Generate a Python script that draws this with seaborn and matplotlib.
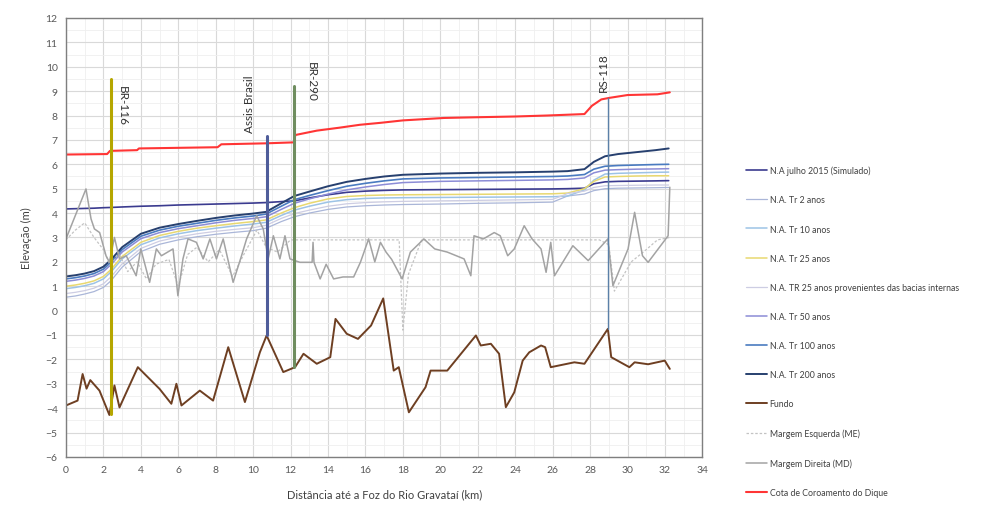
import numpy as np
import pandas as pd
import matplotlib
matplotlib.use("Agg")
import matplotlib.pyplot as plt
import seaborn as sns
from matplotlib.ticker import MultipleLocator

# ---------------- data ----------------
x_na = [0, 0.5, 1, 1.5, 2, 2.4, 3, 4, 5, 6, 7, 8, 9, 10, 10.7, 11.5, 12.2, 13, 14, 15,
        16, 17, 18, 20, 22, 24, 26, 26.8, 27.7, 28.2, 28.8, 29.5, 30.5, 31.5, 32.2]

na_julho2015 = [4.17, 4.18, 4.19, 4.20, 4.22, 4.23, 4.25, 4.28, 4.30, 4.33, 4.35, 4.37, 4.39, 4.41, 4.43,
                4.47, 4.50, 4.62, 4.75, 4.85, 4.90, 4.93, 4.95, 4.96, 4.97, 4.98, 4.99, 5.00, 5.02,
                5.20, 5.28, 5.30, 5.31, 5.32, 5.33]
na_tr2 = [0.55, 0.60, 0.68, 0.78, 0.95, 1.22, 1.78, 2.42, 2.72, 2.90, 3.03, 3.13, 3.21, 3.28, 3.38,
          3.65, 3.85, 4.00, 4.15, 4.25, 4.30, 4.33, 4.35, 4.37, 4.40, 4.42, 4.45, 4.70, 4.78,
          4.92, 5.00, 5.02, 5.03, 5.04, 5.05]
na_tr10 = [0.90, 0.95, 1.02, 1.12, 1.30, 1.58, 2.12, 2.70, 2.98, 3.15, 3.28, 3.38, 3.47, 3.55, 3.62,
           3.90, 4.12, 4.28, 4.45, 4.55, 4.60, 4.62, 4.63, 4.64, 4.65, 4.66, 4.67, 4.70, 4.95,
           5.35, 5.60, 5.63, 5.65, 5.67, 5.68]
na_tr25 = [1.00, 1.05, 1.12, 1.22, 1.40, 1.68, 2.22, 2.80, 3.08, 3.25, 3.38, 3.48, 3.57, 3.65, 3.72,
           4.00, 4.22, 4.40, 4.58, 4.68, 4.72, 4.74, 4.75, 4.76, 4.77, 4.78, 4.79, 4.82, 5.00,
           5.30, 5.48, 5.50, 5.52, 5.53, 5.53]
na_tr25_bacias = [0.70, 0.75, 0.82, 0.92, 1.10, 1.38, 1.92, 2.55, 2.85, 3.02, 3.15, 3.25, 3.33, 3.40, 3.50,
                  3.78, 3.98, 4.12, 4.28, 4.38, 4.43, 4.46, 4.48, 4.50, 4.52, 4.54, 4.56, 4.80, 4.90,
                  5.05, 5.12, 5.13, 5.14, 5.15, 5.15]
na_tr50 = [1.20, 1.25, 1.32, 1.42, 1.60, 1.88, 2.40, 2.95, 3.20, 3.36, 3.48, 3.60, 3.70, 3.78, 3.85,
           4.15, 4.40, 4.58, 4.78, 4.95, 5.07, 5.17, 5.25, 5.30, 5.32, 5.34, 5.36, 5.38, 5.44,
           5.65, 5.76, 5.78, 5.80, 5.81, 5.82]
na_tr100 = [1.30, 1.35, 1.42, 1.52, 1.70, 1.98, 2.50, 3.05, 3.30, 3.46, 3.58, 3.70, 3.80, 3.88, 3.96,
            4.28, 4.55, 4.72, 4.92, 5.10, 5.22, 5.32, 5.40, 5.44, 5.46, 5.48, 5.50, 5.52, 5.58,
            5.80, 5.92, 5.95, 5.97, 5.99, 6.00]
na_tr200 = [1.40, 1.45, 1.52, 1.62, 1.80, 2.08, 2.60, 3.15, 3.40, 3.55, 3.68, 3.80, 3.90, 3.98, 4.05,
            4.40, 4.70, 4.88, 5.10, 5.28, 5.40, 5.50, 5.57, 5.62, 5.65, 5.67, 5.70, 5.72, 5.80,
            6.10, 6.33, 6.42, 6.50, 6.58, 6.65]

x_fundo = [0, 0.62, 0.89, 1.1, 1.3, 1.79, 2.32, 2.59, 2.86, 3.84, 5.0, 5.63, 5.9, 6.17, 7.15,
           7.86, 8.67, 9.56, 10.36, 10.72, 11.61, 12.24, 12.69, 13.4, 14.12, 14.4, 15.0, 15.6,
           16.3, 16.95, 17.51, 17.78, 18.32, 19.21, 19.48, 20.37, 21.9, 22.16, 22.7, 23.14,
           23.5, 23.95, 24.4, 24.75, 25.38, 25.6, 25.9, 27.16, 27.7, 28.95, 29.13, 30.1, 30.38,
           31.1, 31.99, 32.26]
fundo = [-3.89, -3.69, -2.6, -3.2, -2.85, -3.28, -4.28, -3.07, -3.97, -2.32, -3.21, -3.82, -3.0,
         -3.89, -3.28, -3.69, -1.5, -3.75, -1.71, -1.02, -2.52, -2.32, -1.77, -2.18, -1.91,
         -0.34, -0.95, -1.16, -0.61, 0.5, -2.46, -2.32, -4.17, -3.14, -2.46, -2.46, -1.02,
         -1.43, -1.36, -1.77, -3.96, -3.35, -2.05, -1.71, -1.43, -1.5, -2.32, -2.12, -2.18,
         -0.75, -1.91, -2.32, -2.12, -2.2, -2.05, -2.39]

x_me = [0, 0.5, 1.0, 1.5, 2.0, 2.4, 2.8, 3.3, 3.8, 4.3, 4.8, 5.5, 6.0, 6.5, 7.0, 7.6, 8.2, 8.9,
        9.5, 10.2, 10.7, 11.3, 12.0, 12.6, 13.0, 13.6, 14.2, 15.0, 15.8, 16.5, 17.2, 17.8, 18.0,
        18.3, 19.0, 20.0, 21.0, 21.6, 22.5, 23.5, 24.5, 25.5, 26.5, 27.5, 28.5, 29.0, 29.3,
        29.6, 30.2, 31.0, 31.6, 32.26]
margem_esq = [2.9, 3.3, 3.6, 3.0, 2.5, 1.8, 2.4, 1.6, 2.0, 1.3, 1.9, 2.1, 1.0, 2.3, 2.6, 2.0, 2.5,
              1.4, 2.3, 3.3, 2.6, 2.4, 2.9, 2.9, 2.9, 2.9, 2.9, 2.9, 2.9, 2.9, 2.9, 2.9, -0.8,
              1.5, 2.9, 2.9, 2.9, 2.9, 2.9, 2.9, 2.9, 2.9, 2.9, 2.9, 2.9, 2.7, 0.8, 1.2, 2.0,
              2.5, 2.9, 3.0]

x_md = [0, 1.07, 1.34, 1.52, 1.8, 2.14, 2.32, 2.59, 2.86, 3.22, 3.75, 4.0, 4.47, 4.83, 5.1,
        5.72, 5.98, 6.25, 6.52, 6.97, 7.33, 7.69, 8.04, 8.4, 8.93, 9.38, 9.65, 10.19, 10.54,
        10.8, 11.08, 11.43, 11.7, 11.97, 12.5, 13.15, 13.2, 13.25, 13.58, 13.9, 14.3, 14.8,
        15.37, 15.73, 16.17, 16.5, 16.8, 17.1, 17.4, 17.96, 18.4, 19.12, 19.7, 20.37, 21.27,
        21.63, 21.8, 22.3, 22.88, 23.2, 23.6, 23.95, 24.48, 24.9, 25.38, 25.65, 25.9, 26.1,
        27.08, 27.9, 28.95, 29.22, 30.03, 30.38, 30.8, 31.1, 32.17, 32.26]
margem_dir = [2.94, 4.99, 3.76, 3.35, 3.2, 2.25, 1.99, 3.0, 2.12, 2.25, 1.43, 2.53, 1.16, 2.53,
              2.25, 2.53, 0.61, 2.12, 2.94, 2.8, 2.12, 2.94, 2.12, 2.94, 1.16, 2.25, 2.94, 3.89,
              3.35, 2.12, 3.07, 2.12, 3.07, 2.12, 1.98, 1.98, 2.8, 1.98, 1.3, 1.9, 1.3, 1.38,
              1.38, 1.98, 2.94, 2.0, 2.8, 2.4, 2.1, 1.3, 2.4, 2.94, 2.53, 2.4, 2.12, 1.43, 3.07,
              2.94, 3.2, 3.07, 2.25, 2.53, 3.48, 2.94, 2.53, 1.57, 2.8, 1.43, 2.66, 2.05, 2.94,
              1.02, 2.53, 4.03, 2.25, 1.98, 3.07, 5.06]

x_cota = [0, 2.2, 2.35, 3.8, 3.9, 8.1, 8.3, 10.7, 12.2, 12.25, 13.4, 14.6, 15.7, 16.8, 18.0,
          20.2, 22, 24, 25.7, 27.7, 28.1, 28.6, 29.0, 30.0, 31.6, 32.26]
cota_dique = [6.4, 6.42, 6.55, 6.58, 6.65, 6.7, 6.82, 6.86, 6.9, 7.2, 7.38, 7.5, 7.62, 7.7, 7.8,
              7.9, 7.93, 7.96, 8.0, 8.06, 8.4, 8.66, 8.72, 8.84, 8.87, 8.95]

# bridges: name, position (km), bottom and top elevation of marker
ponte_nomes = ["BR-116", "Assis Brasil", "BR-290", "RS-118"]
ponte_x = [2.4, 10.75, 12.2, 28.95]
ponte_base = [-4.25, -1.0, -2.3, -0.75]
ponte_topo = [9.5, 7.15, 9.2, 8.7]

x_ticks = list(range(0, 35, 2))
y_ticks = list(range(-6, 13, 1))

# ---------------- style ----------------
sns.set_theme(style="white")
plt.rcParams['font.family'] = ['Lato', 'DejaVu Sans']

fig = plt.figure(figsize=(10.07, 5.06), dpi=100)
ax = fig.add_axes([0.0655, 0.095, 0.632, 0.8675])

series = [
    ("N.A julho 2015 (Simulado)", x_na, na_julho2015, '#3b3b8f', 1.2, '-'),
    ("N.A. Tr 2 anos", x_na, na_tr2, '#aab6d8', 0.9, '-'),
    ("N.A. Tr 10 anos", x_na, na_tr10, '#9dc3e6', 1.1, '-'),
    ("N.A. Tr 25 anos", x_na, na_tr25, '#e8d870', 1.1, '-'),
    ("N.A. TR 25 anos provenientes das bacias internas", x_na, na_tr25_bacias, '#cdcde3', 0.9, '-'),
    ("N.A. Tr 50 anos", x_na, na_tr50, '#8c8cd6', 1.1, '-'),
    ("N.A. Tr 100 anos", x_na, na_tr100, '#4a7bc0', 1.2, '-'),
    ("N.A. Tr 200 anos", x_na, na_tr200, '#27406f', 1.4, '-'),
    ("Fundo", x_fundo, fundo, '#6e3f22', 1.4, '-'),
    ("Margem Esquerda (ME)", x_me, margem_esq, '#c3c3c3', 0.9, (0, (2, 1.5))),
    ("Margem Direita (MD)", x_md, margem_dir, '#a3a3a3', 1.1, '-'),
    ("Cota de Coroamento do Dique", x_cota, cota_dique, '#ff3535', 1.5, '-'),
]

ponte_cores = ['#b5a600', '#4f5d9a', '#6f8d5f', '#5b80a8']
ponte_lw = [2.2, 2.2, 2.2, 1.0]

for (lab, xs, ys, col, lw, ls) in series:
    sns.lineplot(x=xs, y=ys, ax=ax, color=col, linewidth=lw, linestyle=ls,
                 label=lab, estimator=None, sort=False)

for nome, px, b, t, c, lw in zip(ponte_nomes, ponte_x, ponte_base, ponte_topo, ponte_cores, ponte_lw):
    sns.lineplot(x=[px, px], y=[b, t], ax=ax, color=c, linewidth=lw,
                 estimator=None, sort=False, legend=False)

# bridge labels
lab_pos = {"BR-116": (3.0, 8.45, 270), "Assis Brasil": (9.8, 8.5, 90),
           "BR-290": (13.1, 9.4, 270), "RS-118": (28.7, 9.8, 90)}
for nome in ponte_nomes:
    lx, ly, rot = lab_pos[nome]
    ax.text(lx, ly, nome, rotation=rot, ha='center', va='center', fontsize=8.5, color='#333333')

ax.set_xlim(0, 34)
ax.set_ylim(-6, 12)
ax.set_xticks(x_ticks)
ax.set_yticks(y_ticks)
ax.xaxis.set_minor_locator(MultipleLocator(1))
ax.yaxis.set_minor_locator(MultipleLocator(0.5))
ax.grid(which='major', color='#d9d9d9', linewidth=0.8)
ax.grid(which='minor', color='#efefef', linewidth=0.6)
ax.set_axisbelow(True)
ax.tick_params(which='both', length=0, labelsize=7.5, labelcolor='#595959', pad=6)
for s in ax.spines.values():
    s.set_color('#7f7f7f')
    s.set_linewidth(1.0)

ax.set_xlabel("Distância até a Foz do Rio Gravataí (km)", fontsize=8, color='#404040', labelpad=10)
ax.set_ylabel("Elevação (m)", fontsize=8, color='#404040', labelpad=10)

handles, labels = ax.get_legend_handles_labels()
ax.get_legend().remove()
fig.legend(handles, labels, loc='upper left', bbox_to_anchor=(0.733, 0.686),
           frameon=False, fontsize=6.3, labelspacing=2.3, handlelength=2.4,
           handletextpad=0.3, labelcolor='#404040')

fig.savefig("out.png", dpi=100)
